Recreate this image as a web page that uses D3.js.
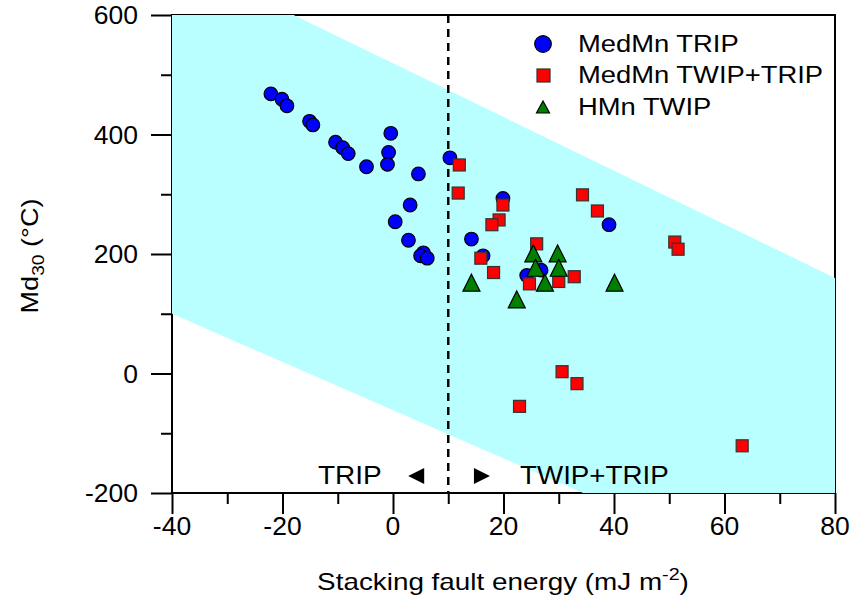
<!DOCTYPE html>
<html><head><meta charset="utf-8">
<script src="https://cdn.jsdelivr.net/npm/d3@7"></script>
<style>body{margin:0;background:#fff}svg text{font-family:"Liberation Sans",Arial,sans-serif}</style>
</head><body><svg id="c" width="851" height="613"></svg>
<script>
// ---- data ----
const medMnTRIP_x = [-22.1,-20.1,-19.2,-15.1,-14.5,-10.4,-9.1,-8.1,-4.8,-0.4,-0.8,-1.0,4.6,3.1,0.4,2.8,5.5,5.0,6.2,10.3,14.2,16.3,19.9,24.2,26.8,39.1];
const medMnTRIP_y = [468,459,448,422,416,387,378,368,346,402,370,350,334,282,254,223,202,197,193,361,225,197,293,164,173,249];
const medMnTWIP_x = [12.0,11.8,19.9,19.2,17.9,15.9,18.2,26.0,24.7,30.0,32.8,34.3,37.0,51.0,51.6,30.6,33.3,22.9,63.2];
const medMnTWIP_y = [349,302,282,257,249,193,169,217,150,154,162,299,272,220,208,3,-17,-55,-121];
const hMnTWIP_x = [14.2,22.4,25.4,25.8,27.5,29.8,30.0,40.1];
const hMnTWIP_y = [152,124,201,177,152,201,177,152];
const bandPoly = [[-40,600],[-18,600],[80,160],[80,-200],[34.4,-200],[-40,100]];
const xMajor = [-40,-20,0,20,40,60,80];
const xMinor = [-30,-10,10,30,50,70];
const yMajor = [-200,0,200,400,600];
const yMinor = [-100,100,300,500];
const seriesNames = ["MedMn TRIP","MedMn TWIP+TRIP","HMn TWIP"];
const boundary = 10;

const svg = d3.select("#c");
const x = d3.scaleLinear().domain([-40,80]).range([172,835]);
const y = d3.scaleLinear().domain([-200,600]).range([493,15]);

// horizontal stretch helper (reference text is wider than it is tall)
function stretch(sel,k){ sel.each(function(){ const w=this.getComputedTextLength(); d3.select(this).attr("textLength",w*k).attr("lengthAdjust","spacingAndGlyphs"); }); }

// axes
function styleAxis(g){ g.selectAll("line,path").attr("stroke","#000").attr("stroke-width",2); g.select(".domain").remove(); g.selectAll("text").remove(); }
svg.append("g").attr("transform","translate(0,493)").call(d3.axisBottom(x).tickValues(xMajor).tickSize(21).tickSizeOuter(0)).call(styleAxis);
svg.append("g").attr("transform","translate(0,493)").call(d3.axisBottom(x).tickValues(xMinor).tickSize(11).tickSizeOuter(0)).call(styleAxis);
svg.append("g").attr("transform","translate(172,0)").call(d3.axisLeft(y).tickValues(yMajor).tickSize(21).tickSizeOuter(0)).call(styleAxis);
svg.append("g").attr("transform","translate(172,0)").call(d3.axisLeft(y).tickValues(yMinor).tickSize(11).tickSizeOuter(0)).call(styleAxis);
// frame
svg.append("rect").attr("x",x(-40)).attr("y",y(600)).attr("width",x(80)-x(-40)).attr("height",y(-200)-y(600))
  .attr("stroke","#000").attr("stroke-width",2).attr("fill","none");

// tick labels
svg.append("g").selectAll("text").data(xMajor).join("text")
  .attr("x",d=>x(d)).attr("y",535).attr("text-anchor","middle").attr("font-size",25).text(d=>d).call(stretch,1.06);
svg.append("g").selectAll("text").data(yMajor).join("text")
  .attr("x",138).attr("y",d=>y(d)+9).attr("text-anchor","end").attr("font-size",25).text(d=>d).call(stretch,1.06);

// band
svg.append("path").attr("d",d3.line().x(d=>x(d[0])).y(d=>y(d[1]))(bandPoly)+"Z").attr("fill","#b9ffff");

// boundary dashed line
svg.append("line").attr("x1",x(boundary)).attr("x2",x(boundary)).attr("y1",y(600)).attr("y2",y(-200))
  .attr("stroke","#000").attr("stroke-width",2.5).attr("stroke-dasharray","8,6");

// markers
const circ = medMnTRIP_x.map((v,i)=>[v,medMnTRIP_y[i]]);
const sq = medMnTWIP_x.map((v,i)=>[v,medMnTWIP_y[i]]);
const tri = hMnTWIP_x.map((v,i)=>[v,hMnTWIP_y[i]]);
svg.append("g").selectAll("circle").data(circ).join("circle")
  .attr("cx",d=>x(d[0])).attr("cy",d=>y(d[1])).attr("r",6.8)
  .attr("fill","#0000ff").attr("stroke","#000").attr("stroke-width",1.2);
svg.append("g").selectAll("rect").data(sq).join("rect")
  .attr("x",d=>x(d[0])-6).attr("y",d=>y(d[1])-6).attr("width",12).attr("height",12)
  .attr("fill","#ff0000").attr("stroke","#333").attr("stroke-width",1.2);
const triPath = (cx,cy,w,h)=>`M${cx},${cy-h/2-1}L${cx+w/2},${cy+h/2+1}L${cx-w/2},${cy+h/2+1}Z`;
svg.append("g").selectAll("path").data(tri).join("path")
  .attr("d",d=>triPath(x(d[0]),y(d[1]),17,15))
  .attr("fill","#008000").attr("stroke","#000").attr("stroke-width",1.2);

// legend
const lg = svg.append("g");
lg.append("circle").attr("cx",543).attr("cy",44).attr("r",8.3).attr("fill","#0000ff").attr("stroke","#000").attr("stroke-width",1.2);
lg.append("rect").attr("x",537).attr("y",69).attr("width",13).attr("height",13).attr("fill","#ff0000").attr("stroke","#333").attr("stroke-width",1.2);
lg.append("path").attr("d",triPath(543,107,13,10)).attr("fill","#008000").attr("stroke","#000").attr("stroke-width",1.2);
lg.selectAll("text").data(seriesNames).join("text")
  .attr("x",578).attr("y",(d,i)=>[52,83,115][i]).attr("font-size",23).text(d=>d).call(stretch,1.19);

// region annotations
svg.append("text").attr("x",318).attr("y",484).attr("font-size",25).text("TRIP").call(stretch,1.12);
svg.append("text").attr("x",520).attr("y",484).attr("font-size",25).text("TWIP+TRIP").call(stretch,1.11);
const ay = 476;
svg.append("path").attr("d",`M${x(4.2)-8},${ay}L${x(4.2)+8},${ay-8}L${x(4.2)+8},${ay+8}Z`).attr("fill","#000");
svg.append("path").attr("d",`M${x(16.1)+8},${ay}L${x(16.1)-8},${ay-8}L${x(16.1)-8},${ay+8}Z`).attr("fill","#000");

// axis titles
const yt = svg.append("g").attr("transform","translate(38,256) rotate(-90) scale(1.13,1)")
  .append("text").attr("text-anchor","middle").attr("font-size",24);
yt.append("tspan").text("Md");
yt.append("tspan").attr("font-size",17).attr("dy",6).text("30");
yt.append("tspan").attr("dy",-6).text(" (°C)");
const xt = svg.append("g").attr("transform","translate(503,590) scale(1.16,1)")
  .append("text").attr("x",0).attr("y",0).attr("text-anchor","middle").attr("font-size",24);
xt.append("tspan").text("Stacking fault energy (mJ m");
xt.append("tspan").attr("font-size",17).attr("dy",-10).text("-2");
xt.append("tspan").attr("dy",10).text(")");
</script></body></html>
